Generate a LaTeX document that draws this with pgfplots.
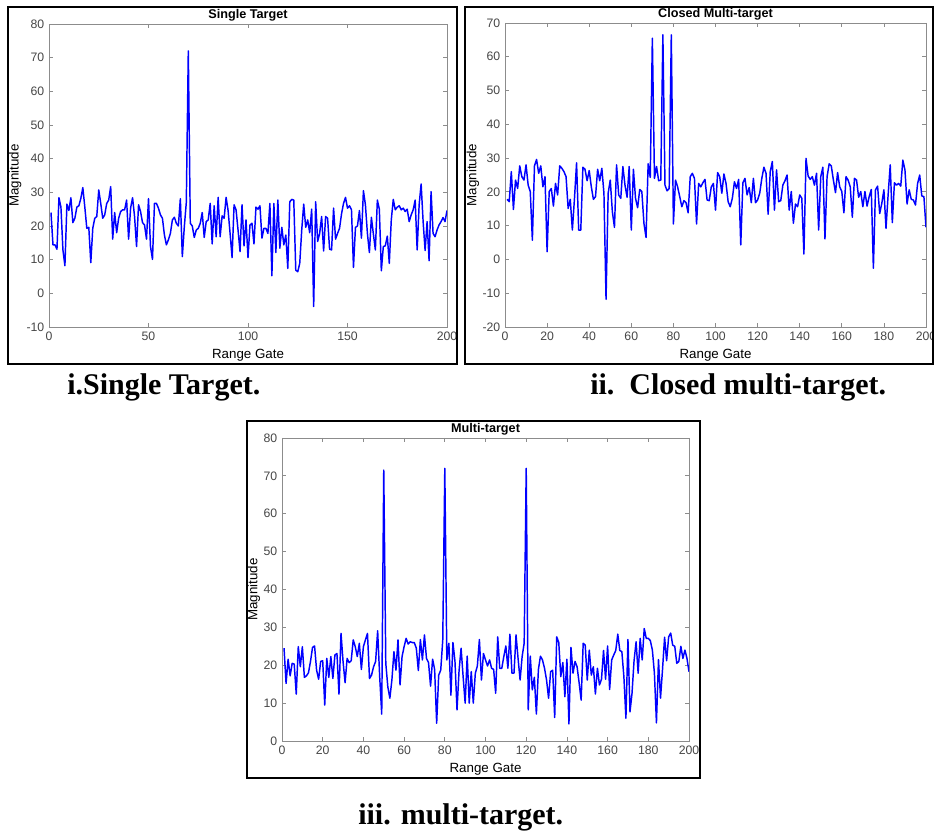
\documentclass[border=0pt]{standalone}
\usepackage{fontspec}
\setmainfont{Liberation Sans}
\newfontfamily\capfont{Liberation Serif}
\usepackage{pgfplots}
\pgfplotsset{compat=1.18}

\definecolor{trace}{RGB}{0,0,255}
\pgfplotsset{
  rgate/.style={
    scale only axis,
    no markers,
    xmin=0, xmax=200,
    axis line style={draw=black!45, line width=0.6pt},
    tick style={draw=black!45, line width=0.6pt},
    major tick length=3pt,
    tick align=inside,
    /pgf/number format/assume math mode=true,
    ticklabel style={font=\fontsize{9.2}{10}\selectfont, text=black!72},
    xlabel={Range Gate},
    ylabel={Magnitude},
    label style={font=\fontsize{9.5}{11}\selectfont, text=black!72},
    every axis x label/.style={at={(axis description cs:0.5,0)}, anchor=center, yshift=-21pt},
    every axis title/.style={at={(axis description cs:0.5,1)}, anchor=south, inner sep=0pt, yshift=1.6pt,
      font=\bfseries\fontsize{9.5}{11}\selectfont, text=black},
  }
}

\begin{document}
\begin{tikzpicture}
\begin{scope}[x=0.75pt, y=0.75pt]
  \fill[white] (0,0) rectangle (934,834);
\end{scope}

% i. single target
\begin{axis}[rgate, at={(36.75pt,380.25pt)}, anchor=south west,
  width=298.5pt, height=227.25pt,
  ymin=-10, ymax=80, xtick={0,50,...,200}, ytick={-10,0,...,80},
  title={Single Target},
  every axis y label/.style={at={(axis description cs:-0.085,0.5)}, rotate=90, anchor=center}]
\addplot[trace, line width=1.1pt, line join=round, mark=none] coordinates {
(1,24)(2,14.4)(3,14.4)(4,13.1)(5,28.4)(6,25.6)(7,12.9)(8,8.2)(9,26.5)(10,24.6)
(11,28.4)(12,21)(13,22.3)(14,25.6)(15,26)(16,28.2)(17,31.4)(18,25.6)(19,19.3)(20,19.6)
(21,9.1)(22,19.3)(23,22.3)(24,22.8)(25,30.7)(26,26.7)(27,22.3)(28,23.3)(29,26.7)(30,27.7)
(31,31.7)(32,16.1)(33,24)(34,18)(35,22.3)(36,24.3)(37,24.8)(38,24.8)(39,27.7)(40,16.1)
(41,25.3)(42,28.4)(43,22.8)(44,13.9)(45,26.3)(46,24.3)(47,21)(48,20.3)(49,16.1)(50,28.1)
(51,13.9)(52,10.1)(53,26.7)(54,26.7)(55,25.3)(56,23.3)(57,22.3)(58,17.3)(59,14.4)(60,15.9)
(61,17.8)(62,21.8)(63,22.6)(64,20.8)(65,20)(66,28.1)(67,10.9)(68,19.8)(69,27)(70,72)
(71,20.8)(72,20)(73,16.6)(74,18.8)(75,19.3)(76,20.8)(77,24)(78,16.6)(79,21.3)(80,21.8)
(81,26.7)(82,14.7)(83,26)(84,16.8)(85,28.5)(86,16.8)(87,23)(88,22.3)(89,28.5)(90,24.6)
(91,17.8)(92,10.6)(93,26.3)(94,24.8)(95,18.8)(96,12.4)(97,26.3)(98,14.1)(99,21.8)(100,10.6)
(101,20.3)(102,20.8)(103,14.7)(104,25.6)(105,25)(106,26)(107,16.4)(108,19.3)(109,19.3)(110,17.8)
(111,26.7)(112,5.2)(113,26.7)(114,12.1)(115,27.7)(116,13.4)(117,19.6)(118,14.4)(119,17.3)(120,7.4)
(121,27.2)(122,27.9)(123,27.7)(124,6.9)(125,6.4)(126,8.9)(127,18.8)(128,26.5)(129,19.6)(130,21.8)
(131,18)(132,25)(133,-3.9)(134,27.2)(135,15.4)(136,17.8)(137,22.8)(138,12.6)(139,22.8)(140,22.3)
(141,13.1)(142,12.9)(143,25.3)(144,16.1)(145,17.8)(146,19.3)(147,23.6)(148,26.7)(149,28.5)(150,25.3)
(151,26)(152,24.8)(153,7.7)(154,19.6)(155,20)(156,24.6)(157,16.4)(158,30.5)(159,26.3)(160,17.8)
(161,12.1)(162,22.6)(163,17.6)(164,12.9)(165,27.7)(166,25)(167,6.7)(168,13.9)(169,14.1)(170,17)
(171,8.9)(172,21.8)(173,27.9)(174,24.8)(175,25.6)(176,26)(177,24.8)(178,25.3)(179,24.3)(180,25)
(181,21.3)(182,23.3)(183,24.8)(184,27.7)(185,12.9)(186,26.3)(187,32.5)(188,21.3)(189,12.7)(190,21.3)
(191,9.7)(192,30.2)(193,17.8)(194,16.8)(195,18.8)(196,20.3)(197,21.3)(198,22.5)(199,21.3)(200,24.6)
};
\end{axis}

% ii. closed multi-target
\begin{axis}[rgate, at={(378.75pt,380.25pt)}, anchor=south west,
  width=315.75pt, height=228pt,
  ymin=-20, ymax=70, xtick={0,20,...,200}, ytick={-20,-10,...,70},
  title={Closed Multi-target},
  every axis y label/.style={at={(axis description cs:-0.076,0.5)}, rotate=90, anchor=center}]
\addplot[trace, line width=1.1pt, line join=round, mark=none] coordinates {
(1,17.8)(2,17.1)(3,26)(4,14.8)(5,23.5)(6,21)(7,27.7)(8,24.5)(9,23.5)(10,28)
(11,22)(12,20.1)(13,5.7)(14,27.7)(15,29.6)(16,25.5)(17,27.7)(18,21.5)(19,24.5)(20,2.3)
(21,20.1)(22,21)(23,15.8)(24,22.5)(25,19.1)(26,27.7)(27,27)(28,26)(29,24.5)(30,15.1)
(31,17.8)(32,8.7)(33,18)(34,28.6)(35,8.7)(36,8.7)(37,27.3)(38,26.7)(39,23.3)(40,26.3)
(41,21.5)(42,17.8)(43,18.6)(44,26.7)(45,23.3)(46,27)(47,19.6)(48,-11.8)(49,19.6)(50,23.5)
(51,14.1)(52,9.5)(53,28)(54,19.1)(55,18.1)(56,27.5)(57,22)(58,18.4)(59,27.5)(60,8.7)
(61,26.7)(62,18.1)(63,15.3)(64,20.7)(65,20.1)(66,10.7)(67,6.5)(68,28.3)(69,24.3)(70,65.5)
(71,24)(72,27.5)(73,23.3)(74,23.5)(75,66.5)(76,22)(77,20.3)(78,21)(79,66.5)(80,10.5)
(81,23.5)(82,21.5)(83,18.6)(84,15.6)(85,17.4)(86,16.8)(87,13.8)(88,24.5)(89,25.5)(90,24)
(91,10.5)(92,22.5)(93,21.5)(94,22.7)(95,23.7)(96,17.6)(97,17.4)(98,21.5)(99,22.5)(100,14.6)
(101,25.7)(102,24.5)(103,19.6)(104,25.3)(105,22.5)(106,17.1)(107,15.6)(108,18.1)(109,23)(110,21)
(111,23.7)(112,4.3)(113,22.7)(114,24)(115,19.1)(116,21.3)(117,16.8)(118,24)(119,16.8)(120,17.6)
(121,19.6)(122,24)(123,27.3)(124,25.5)(125,13.4)(126,26)(127,29)(128,14.6)(129,26.5)(130,17.1)
(131,17.4)(132,22)(133,23.3)(134,25)(135,14.6)(136,20.1)(137,10.7)(138,16.4)(139,15.6)(140,19.1)
(141,18.1)(142,1.6)(143,29.9)(144,24.7)(145,23.7)(146,24.5)(147,22)(148,25.5)(149,8.7)(150,24.5)
(151,27.3)(152,6.1)(153,24.5)(154,28.3)(155,27.7)(156,23.5)(157,19.8)(158,25.7)(159,21.5)(160,20.1)
(161,13.8)(162,24.5)(163,23.5)(164,21.5)(165,12.5)(166,24)(167,23.5)(168,18.4)(169,20.1)(170,15.6)
(171,20.1)(172,15.8)(173,18.6)(174,20.7)(175,-2.6)(176,20.6)(177,21.7)(178,13.6)(179,16.6)(180,20.6)
(181,9.2)(182,19.1)(183,28)(184,10.9)(185,22.7)(186,22)(187,22.5)(188,21.7)(189,29.4)(190,26.5)
(191,16.4)(192,20.6)(193,17.8)(194,17.6)(195,16.1)(196,22.5)(197,25)(198,18.8)(199,18.6)(200,9.5)
};
\end{axis}

% iii. multi-target
\begin{axis}[rgate, at={(211.5pt,69.75pt)}, anchor=south west,
  width=305.25pt, height=227.25pt,
  ymin=0, ymax=80, xtick={0,20,...,200}, ytick={0,10,...,80},
  title={Multi-target},
  every axis y label/.style={at={(axis description cs:-0.069,0.5)}, rotate=90, anchor=center}]
\addplot[trace, line width=1.1pt, line join=round, mark=none] coordinates {
(1,24.5)(2,15.2)(3,21.6)(4,17.2)(5,20.5)(6,20.3)(7,12.4)(8,24.9)(9,19.6)(10,24.9)
(11,16.8)(12,17.2)(13,18)(14,21)(15,24.7)(16,25.1)(17,18.7)(18,16.3)(19,21)(20,21.2)
(21,9.5)(22,21.8)(23,16.8)(24,22.3)(25,16.5)(26,22.7)(27,23.1)(28,12.4)(29,28.4)(30,21)
(31,15.4)(32,21.8)(33,20.7)(34,21.2)(35,26.7)(36,24.9)(37,22.3)(38,25.8)(39,18.9)(40,24.9)
(41,26.7)(42,28.4)(43,16.5)(44,17.4)(45,19.6)(46,21)(47,29.1)(48,17)(49,7.1)(50,71.5)
(51,20.5)(52,14.3)(53,11.3)(54,16.1)(55,23.6)(56,18.7)(57,26.7)(58,14.8)(59,22.3)(60,24.9)
(61,27.1)(62,25.6)(63,26.2)(64,26)(65,26)(66,24.5)(67,18.6)(68,26.8)(69,21.4)(70,28)
(71,21.8)(72,20.7)(73,14.5)(74,21.6)(75,18.9)(76,4.7)(77,17.4)(78,18.7)(79,26.7)(80,72)
(81,21.4)(82,25.8)(83,12.1)(84,26)(85,21)(86,8.2)(87,18.5)(88,24.5)(89,17)(90,10)
(91,22.4)(92,10)(93,18.3)(94,10)(95,17.9)(96,19.8)(97,26.8)(98,16.1)(99,23.1)(100,21.4)
(101,19.8)(102,21.4)(103,19.2)(104,18.9)(105,12.6)(106,27.5)(107,19.2)(108,19.2)(109,22.3)(110,25.1)
(111,19.2)(112,28.2)(113,17.9)(114,17.9)(115,28)(116,21.8)(117,16.1)(118,22.3)(119,25.8)(120,72)
(121,8.2)(122,22.4)(123,13.5)(124,16.8)(125,7.1)(126,18.9)(127,22.4)(128,21.4)(129,19.2)(130,16.1)
(131,11.3)(132,18.3)(133,18.7)(134,6.2)(135,27.5)(136,26)(137,17)(138,20.7)(139,11.7)(140,21.6)
(141,4.5)(142,24.7)(143,17.9)(144,21)(145,19.6)(146,15.4)(147,10.8)(148,25.8)(149,25.3)(150,16.1)
(151,24)(152,17.4)(153,19.6)(154,12.4)(155,19.2)(156,14.8)(157,16.3)(158,23.9)(159,16.3)(160,25.1)
(161,13.6)(162,21.4)(163,22.7)(164,23.9)(165,28.2)(166,23.9)(167,23.6)(168,17)(169,6)(170,26.8)
(171,7.7)(172,12.6)(173,21.2)(174,26.2)(175,17.9)(176,27.1)(177,21.4)(178,29.7)(179,27.1)(180,27.1)
(181,26.5)(182,24)(183,17.9)(184,4.8)(185,21.5)(186,11.3)(187,19)(188,27.4)(189,21.2)(190,27.5)
(191,28.5)(192,25.3)(193,25)(194,20.5)(195,21)(196,25)(197,21.8)(198,24)(199,21.8)(200,18.3)
};
\end{axis}

% panel frames and captions
\begin{scope}[x=0.75pt, y=0.75pt]
  \draw[line width=1.5pt] (8,827) rectangle (457,470);
  \draw[line width=1.5pt] (465,827) rectangle (933,470);
  \draw[line width=1.5pt] (247,413) rectangle (700,56);
  \node[anchor=west, inner sep=0pt, font=\capfont\bfseries\fontsize{22.5}{26}\selectfont] at (67,447) {i.Single Target.};
  \node[anchor=west, inner sep=0pt, font=\capfont\bfseries\fontsize{22.5}{26}\selectfont] at (590,447) {ii.\ \ Closed multi-target.};
  \node[anchor=west, inner sep=0pt, font=\capfont\bfseries\fontsize{22.5}{26}\selectfont] at (358,17) {iii. multi-target.};
\end{scope}

% the page is exactly the figure area; the last tick label runs off its right edge
\pgfresetboundingbox
\path[use as bounding box] (0pt,0pt) rectangle (700.5pt,625.5pt);
\end{tikzpicture}
\end{document}
